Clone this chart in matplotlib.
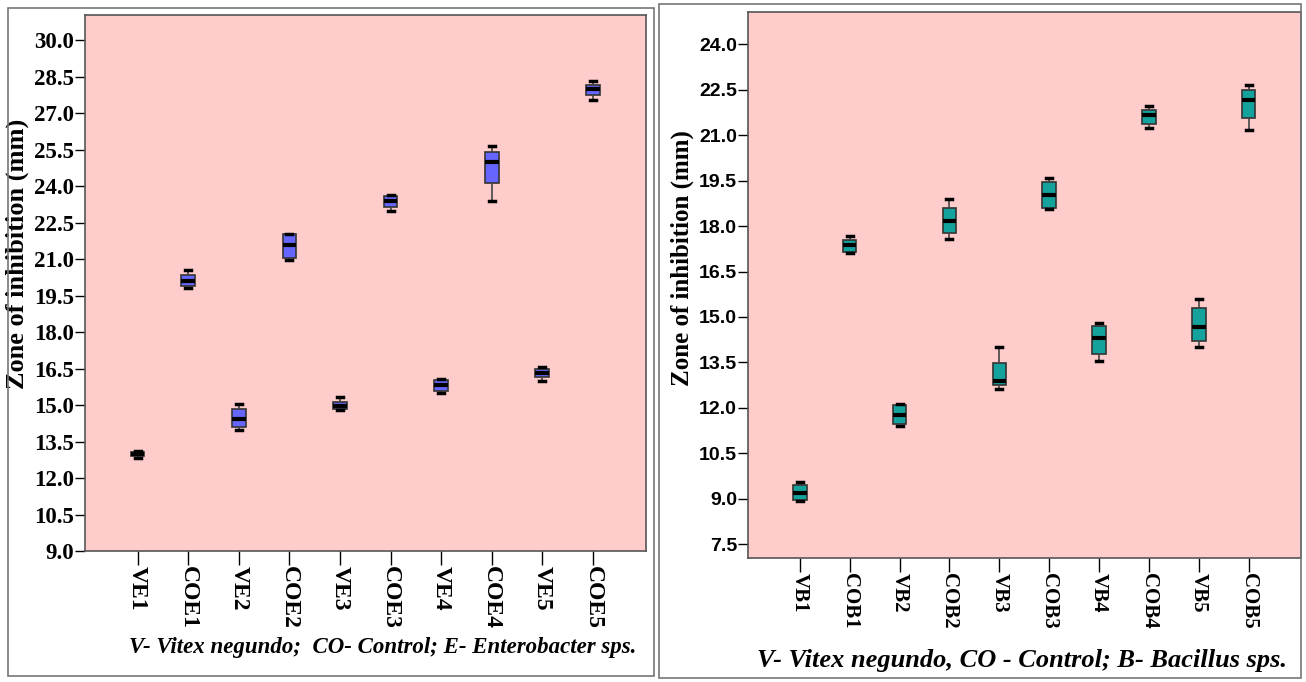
import matplotlib
matplotlib.use('Agg')
import matplotlib.pyplot as plt
from matplotlib.patches import Rectangle

# Left panel - Enterobacter sps.
ent_labels = ['VE1', 'COE1', 'VE2', 'COE2', 'VE3', 'COE3', 'VE4', 'COE4', 'VE5', 'COE5']
ent_low = [12.81, 19.83, 13.98, 20.95, 14.81, 22.96, 15.49, 23.40, 15.97, 27.55]
ent_q1 = [12.92, 19.88, 14.09, 21.06, 14.83, 23.15, 15.56, 24.11, 16.14, 27.76]
ent_med = [13.00, 20.10, 14.43, 21.58, 14.95, 23.40, 15.81, 24.98, 16.32, 27.97]
ent_q3 = [13.08, 20.33, 14.85, 22.03, 15.12, 23.60, 16.01, 25.38, 16.48, 28.14]
ent_high = [13.11, 20.54, 15.05, 22.03, 15.33, 23.64, 16.05, 25.63, 16.55, 28.31]
ent_ticks = [9.0, 10.5, 12.0, 13.5, 15.0, 16.5, 18.0, 19.5, 21.0, 22.5, 24.0, 25.5, 27.0, 28.5, 30.0]

# Right panel - Bacillus sps.
bac_labels = ['VB1', 'COB1', 'VB2', 'COB2', 'VB3', 'COB3', 'VB4', 'COB4', 'VB5', 'COB5']
bac_low = [8.92, 17.11, 11.40, 17.57, 12.63, 18.56, 13.56, 21.22, 14.00, 21.18]
bac_q1 = [8.95, 17.16, 11.47, 17.77, 12.74, 18.58, 13.78, 21.38, 14.20, 21.55]
bac_med = [9.20, 17.37, 11.77, 18.15, 12.90, 19.02, 14.30, 21.66, 14.68, 22.15]
bac_q3 = [9.46, 17.55, 12.10, 18.59, 13.47, 19.46, 14.69, 21.84, 15.29, 22.49]
bac_high = [9.57, 17.68, 12.13, 18.90, 14.00, 19.57, 14.80, 21.97, 15.59, 22.66]
bac_ticks = [7.5, 9.0, 10.5, 12.0, 13.5, 15.0, 16.5, 18.0, 19.5, 21.0, 22.5, 24.0]

BG = '#ffcccc'


def make_stats(labels, low, q1, med, q3, high):
    return [dict(label=l, whislo=a, q1=b, med=c, q3=d, whishi=e, fliers=[])
            for l, a, b, c, d, e in zip(labels, low, q1, med, q3, high)]


def draw_panel(ax, stats, color, ticks, ylim, tick_font, xfont):
    ax.set_facecolor(BG)
    ax.bxp(stats, positions=range(len(stats)), widths=0.27, patch_artist=True,
           boxprops=dict(facecolor=color, edgecolor='#333333', linewidth=1.2),
           medianprops=dict(color='black', linewidth=3),
           whiskerprops=dict(color='#444444', linewidth=1.2),
           capprops=dict(color='black', linewidth=2.5),
           capwidths=0.12)
    ax.set_xlim(-1.04, 10.05)
    ax.set_ylim(*ylim)
    ax.set_yticks(ticks)
    ax.set_yticklabels([f'{t:.1f}' for t in ticks], **tick_font)
    ax.set_xticks(range(len(stats)))
    ax.set_xticklabels([s['label'] for s in stats], rotation=-90,
                       family='Liberation Serif', fontweight='bold', fontsize=xfont)
    ax.tick_params(axis='y', length=7, width=1, pad=1)
    ax.tick_params(axis='x', length=10, width=1, pad=1)
    for sp in ax.spines.values():
        sp.set_color('#555555')
        sp.set_linewidth(1.2)


fig = plt.figure(figsize=(13.06, 6.82), dpi=100)

# panel frames
fig.patches.append(Rectangle((8 / 1306, 6 / 682), 646 / 1306, 668 / 682, transform=fig.transFigure,
                             fill=False, edgecolor='#777777', linewidth=1.2))
fig.patches.append(Rectangle((659 / 1306, 4 / 682), 642 / 1306, 674 / 682, transform=fig.transFigure,
                             fill=False, edgecolor='#777777', linewidth=1.2))

ax1 = fig.add_axes([85 / 1306, 1 - 551 / 682, 561 / 1306, 536 / 682])
draw_panel(ax1, make_stats(ent_labels, ent_low, ent_q1, ent_med, ent_q3, ent_high),
           '#6666ff', ent_ticks, (9.0, 31.03),
           dict(family='Liberation Serif', fontweight='bold', fontsize=16.5), 17)
ax1.set_ylabel('Zone of inhibition (mm)', family='Liberation Serif', fontweight='bold',
               fontsize=19)
ax1.yaxis.set_label_coords(-0.1, 0.555)
fig.text(383 / 1306, 1 - 648 / 682, 'V- Vitex negundo;  CO- Control; E- Enterobacter sps.',
         family='Liberation Serif', style='italic', fontweight='bold', fontsize=16.5,
         ha='center', va='center')

ax2 = fig.add_axes([748 / 1306, 1 - 558 / 682, 553 / 1306, 546 / 682])
draw_panel(ax2, make_stats(bac_labels, bac_low, bac_q1, bac_med, bac_q3, bac_high),
           '#14a39c', bac_ticks, (7.05, 25.06),
           dict(family='Liberation Sans', fontweight='bold', fontsize=14), 15)
ax2.set_ylabel('Zone of inhibition (mm)', family='Liberation Serif', fontweight='bold',
               fontsize=18)
ax2.yaxis.set_label_coords(-0.098, 0.55)
fig.text(1022 / 1306, 1 - 660 / 682, 'V- Vitex negundo, CO - Control; B- Bacillus sps.',
         family='Liberation Serif', style='italic', fontweight='bold', fontsize=19,
         ha='center', va='center')

fig.savefig('out.png', dpi=100, facecolor='white')
